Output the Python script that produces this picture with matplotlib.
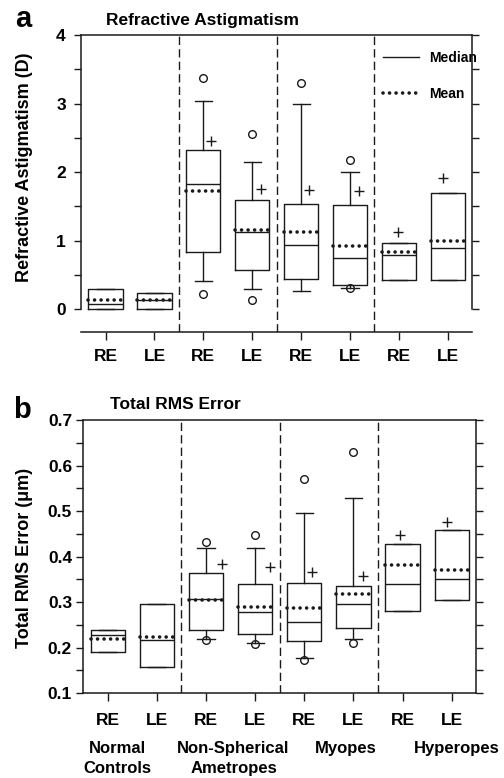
import matplotlib
matplotlib.use("Agg")
import matplotlib.pyplot as plt
from matplotlib.lines import Line2D
from matplotlib.ticker import MultipleLocator, FormatStrFormatter

plt.rcParams["font.family"] = ["Liberation Sans", "DejaVu Sans"]
plt.rcParams["font.weight"] = "bold"

INK = "#1a1a1a"

TICK_LABELS = ["RE", "LE", "RE", "LE", "RE", "LE", "RE", "LE"]
GROUPS = ["Normal\nControls", "Non-Spherical\nAmetropes", "Myopes", "Hyperopes"]

# Panel a: refractive astigmatism (D)
ASTIG_Q1 = [0.00, 0.00, 0.83, 0.57, 0.44, 0.35, 0.43, 0.42]
ASTIG_MED = [0.07, 0.13, 1.83, 1.12, 0.94, 0.75, 0.79, 0.90]
ASTIG_MEAN = [0.14, 0.13, 1.72, 1.16, 1.12, 0.92, 0.84, 1.00]
ASTIG_Q3 = [0.30, 0.23, 2.33, 1.59, 1.53, 1.52, 0.97, 1.70]
ASTIG_WLO = [0.00, 0.00, 0.41, 0.30, 0.26, 0.31, 0.43, 0.42]
ASTIG_WHI = [0.30, 0.23, 3.04, 2.15, 3.00, 2.00, 0.97, 1.70]
ASTIG_OUT = [[], [], [3.37, 0.22], [2.55, 0.14], [3.30], [2.18, 0.31], [], []]
ASTIG_PLUS = [None, None, 2.45, 1.75, 1.74, 1.73, 1.13, 1.92]

# Panel b: total RMS error (um)
RMS_Q1 = [0.191, 0.157, 0.238, 0.230, 0.215, 0.243, 0.281, 0.305]
RMS_MED = [0.227, 0.216, 0.308, 0.279, 0.257, 0.295, 0.340, 0.352]
RMS_MEAN = [0.219, 0.224, 0.304, 0.290, 0.288, 0.318, 0.381, 0.371]
RMS_Q3 = [0.238, 0.295, 0.363, 0.341, 0.343, 0.336, 0.428, 0.459]
RMS_WLO = [0.191, 0.157, 0.220, 0.211, 0.177, 0.219, 0.281, 0.305]
RMS_WHI = [0.238, 0.295, 0.418, 0.420, 0.496, 0.528, 0.428, 0.459]
RMS_OUT = [[], [], [0.432, 0.216], [0.448, 0.209], [0.570, 0.172], [0.630, 0.211], [], []]
RMS_PLUS = [None, None, 0.384, 0.378, 0.366, 0.358, 0.448, 0.477]

# horizontal nudge of the "+" markers so they clear the whiskers
PLUS_SHIFT_A = [0, 0, 0.16, 0.18, 0.17, 0.18, -0.02, -0.10]
PLUS_SHIFT_B = [0, 0, 0.32, 0.30, 0.16, 0.19, -0.06, -0.10]

MEAN_STYLE = dict(color=INK, linestyle=(0, (0.01, 1.8)), linewidth=2.6,
                  dash_capstyle="round")


def draw_panel(ax, q1, med, mean, q3, wlo, whi, out, plus, shift):
    pos = list(range(1, len(q1) + 1))
    stats = []
    for i in range(len(q1)):
        stats.append(dict(q1=q1[i], med=med[i], mean=mean[i], q3=q3[i],
                          whislo=wlo[i], whishi=whi[i], fliers=out[i]))
    ax.bxp(stats, positions=pos, widths=0.7, showmeans=True, meanline=True,
           boxprops=dict(color=INK, linewidth=1.0),
           medianprops=dict(color=INK, linewidth=1.0),
           whiskerprops=dict(color=INK, linewidth=1.0),
           capprops=dict(color=INK, linewidth=1.0),
           meanprops=MEAN_STYLE,
           flierprops=dict(marker="o", markersize=5.5, markerfacecolor="none",
                           markeredgecolor=INK, markeredgewidth=1.0))
    px = [p + s for p, s, v in zip(pos, shift, plus) if v is not None]
    py = [v for v in plus if v is not None]
    ax.plot(px, py, linestyle="none", marker="+", markersize=7,
            markeredgewidth=1.0, color=INK)
    # dashed separators between the four groups
    for k in range(1, len(GROUPS)):
        ax.axvline(2 * k + 0.5, color=INK, linewidth=1.0, linestyle=(0, (6, 3)))
    ax.set_xlim(0.5, len(q1) + 0.5)
    ax.set_xticks(pos)
    ax.set_xticklabels(TICK_LABELS, fontsize=12.5, fontweight="bold")
    ax.tick_params(axis="x", direction="out", length=6, width=1.0, color=INK)
    ax.tick_params(axis="y", which="both", direction="out", length=5, width=1.0,
                   left=True, right=True, labelright=False, color=INK,
                   labelsize=12.5)
    for sp in ax.spines.values():
        sp.set_linewidth(1.1)
        sp.set_color(INK)


fig = plt.figure(figsize=(5.04, 7.78), dpi=100)

# ---- panel a ----
ax1 = fig.add_axes([0.161, 0.573, 0.776, 0.382])
draw_panel(ax1, ASTIG_Q1, ASTIG_MED, ASTIG_MEAN, ASTIG_Q3, ASTIG_WLO, ASTIG_WHI,
           ASTIG_OUT, ASTIG_PLUS, PLUS_SHIFT_A)
ax1.set_ylim(-0.335, 4)
ax1.spines["left"].set_bounds(0, 4)
ax1.spines["right"].set_bounds(0, 4)
ax1.yaxis.set_major_locator(MultipleLocator(1))
ax1.yaxis.set_minor_locator(MultipleLocator(0.5))
ax1.yaxis.set_major_formatter(FormatStrFormatter("%d"))
ax1.tick_params(axis="y", which="major", pad=6)
ax1.tick_params(axis="x", pad=6)
ax1.set_ylabel("Refractive Astigmatism (D)", fontsize=13, fontweight="bold")
ax1.yaxis.set_label_coords(-0.124, 0.555)
ax1.text(0.064, 1.049, "Refractive Astigmatism", transform=ax1.transAxes,
         ha="left", va="center", fontsize=12.5, fontweight="bold")
handles = [Line2D([], [], color=INK, linewidth=1.0),
           Line2D([], [], **MEAN_STYLE)]
ax1.legend(handles, ["Median", "Mean"], loc="upper left",
           bbox_to_anchor=(0.772, 0.945), frameon=False, borderpad=0,
           borderaxespad=0, handlelength=2.6, handletextpad=0.7,
           labelspacing=1.55, prop=dict(weight="bold", size=10))

# ---- panel b ----
ax2 = fig.add_axes([0.165, 0.109, 0.780, 0.351])
draw_panel(ax2, RMS_Q1, RMS_MED, RMS_MEAN, RMS_Q3, RMS_WLO, RMS_WHI,
           RMS_OUT, RMS_PLUS, PLUS_SHIFT_B)
ax2.set_ylim(0.1, 0.7)
ax2.yaxis.set_major_locator(MultipleLocator(0.1))
ax2.yaxis.set_minor_locator(MultipleLocator(0.05))
ax2.yaxis.set_major_formatter(FormatStrFormatter("%.1f"))
ax2.tick_params(axis="y", which="major", pad=3)
ax2.tick_params(axis="x", pad=8)
ax2.set_ylabel("Total RMS Error (\u03bcm)", fontsize=13, fontweight="bold")
ax2.yaxis.set_label_coords(-0.127, 0.496)
ax2.text(0.069, 1.059, "Total RMS Error", transform=ax2.transAxes,
         ha="left", va="center", fontsize=12.5, fontweight="bold")

GROUP_X = [1.2, 3.56, 5.85, 8.1]
for gx, name in zip(GROUP_X, GROUPS):
    ax2.text(gx, -0.176, name, transform=ax2.get_xaxis_transform(),
             ha="center", va="top", fontsize=12, fontweight="bold",
             linespacing=1.4, clip_on=False)

fig.text(0.046, 0.965, "a", ha="center", va="baseline", fontsize=21,
         fontweight="bold")
fig.text(0.044, 0.463, "b", ha="center", va="baseline", fontsize=21,
         fontweight="bold")

fig.savefig("out.png", dpi=100, facecolor="white")
